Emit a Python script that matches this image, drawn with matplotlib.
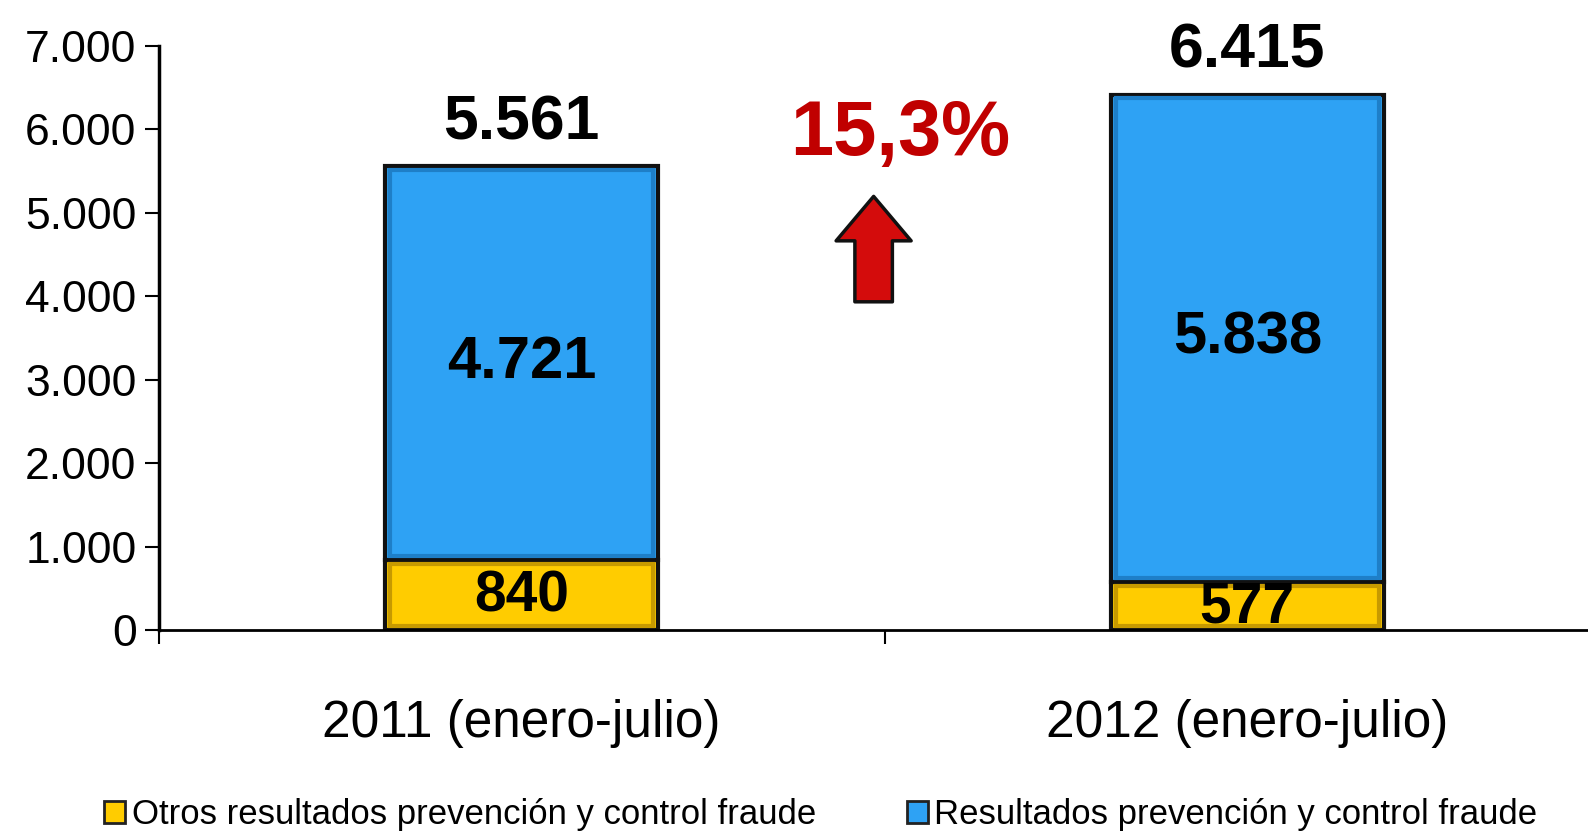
import numpy as np
import matplotlib.pyplot as plt
from matplotlib.patches import Patch

# data
periodos = ['2011 (enero-julio)', '2012 (enero-julio)']
otros = [840, 577]
resultados = [4721, 5838]
totales = [5561, 6415]
yticks = [0, 1000, 2000, 3000, 4000, 5000, 6000, 7000]
ytick_labels = ['0', '1.000', '2.000', '3.000', '4.000', '5.000', '6.000', '7.000']
variacion = '15,3%'
leyenda = ['Otros resultados prevención y control fraude', 'Resultados prevención y control fraude']

fam = ['Liberation Sans', 'DejaVu Sans']
amarillo, azul = '#FFCC00', '#2EA2F4'


def fmt(v):
    return f'{v:,}'.replace(',', '.')


fig = plt.figure(figsize=(15.88, 8.35), dpi=100)
# axes wider than the figure: the right part is cut like in the original slide
ax = fig.add_axes([0.100, 0.2455, 0.914, 0.6995])

x = np.arange(len(periodos))
w = 0.376
ax.bar(x, otros, w, color=amarillo, edgecolor='#111111', linewidth=3, zorder=2)
ax.bar(x, resultados, w, bottom=otros, color=azul, edgecolor='#111111', linewidth=3, zorder=2)
# inner darker rim for a little bevel look
ax.bar(x, np.array(otros) - 90, w - 0.014, bottom=45, color='none', edgecolor='#C79A00',
       linewidth=3, zorder=2.1)
ax.bar(x, np.array(resultados) - 90, w - 0.014, bottom=np.array(otros) + 45, color='none',
       edgecolor='#1E7FC8', linewidth=3, zorder=2.1)

for i in range(len(x)):
    ax.text(x[i], otros[i] / 2 - 20, fmt(otros[i]), ha='center', va='center',
            fontsize=41, fontweight='bold', family=fam, zorder=3, clip_on=True)
    ax.text(x[i], otros[i] + resultados[i] / 2, fmt(resultados[i]),
            ha='center', va='center', fontsize=43, fontweight='bold', family=fam, zorder=3)
    ax.annotate(fmt(totales[i]), (x[i], totales[i]), xytext=(0, 10),
                textcoords='offset points', ha='center', va='bottom', fontsize=45,
                fontweight='bold', family=fam, annotation_clip=False)

# growth arrow and percentage
ax.annotate('', xy=(0.485, 5230), xytext=(0.485, 3900),
            arrowprops=dict(arrowstyle='simple,head_length=32,head_width=54,tail_width=27',
                            mutation_scale=1, facecolor='#D40C0C', edgecolor='#111111', lw=2.5))
ax.text(0.522, 5940, variacion, ha='center', va='center', fontsize=56, fontweight='bold',
        color='#C00000', family=fam)

ax.set_xlim(-0.5, 1.5)
ax.set_ylim(0, 7000)
ax.set_yticks(yticks)
ax.set_yticklabels(ytick_labels, family=fam, fontsize=32)
ax.set_xticks([-0.5, 0.5, 1.5])
ax.set_xticklabels([])
ax.set_xticks(x, minor=True)
ax.set_xticklabels(periodos, minor=True, family=fam, fontsize=37)
ax.tick_params(axis='x', which='minor', length=0, pad=50)
ax.tick_params(axis='both', which='major', length=10, width=1.5, direction='out')
ax.tick_params(axis='y', pad=6)

for s in ['top', 'right']:
    ax.spines[s].set_visible(False)
ax.spines['left'].set_linewidth(2.5)
ax.spines['bottom'].set_linewidth(2)

handles = [Patch(facecolor=amarillo, edgecolor='#222222', lw=2),
           Patch(facecolor=azul, edgecolor='#222222', lw=2)]
fig.legend(handles, leyenda, loc='center', bbox_to_anchor=(0.517, 0.024), ncol=2, frameon=False,
           prop={'family': fam, 'size': 25}, handlelength=0.6, handleheight=0.6,
           handletextpad=0.2, columnspacing=2.6)

fig.savefig('out.png', dpi=100)
